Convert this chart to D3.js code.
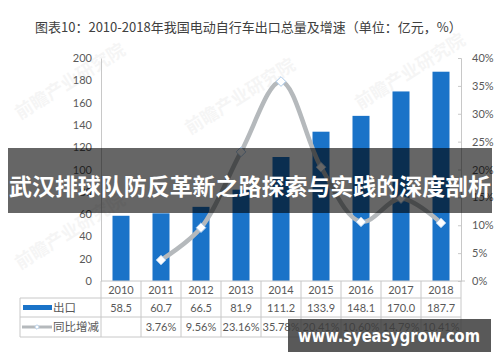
<!DOCTYPE html>
<html>
<head>
<meta charset="utf-8">
<script src="https://cdn.jsdelivr.net/npm/d3@7"></script>
<style>
  body { margin: 0; background: #fff; }
  svg { display: block; font-family: "Noto Sans CJK SC", "Microsoft YaHei", sans-serif; }
</style>
</head>
<body>
<script>
// chart data
const years = ["2010", "2011", "2012", "2013", "2014", "2015", "2016", "2017", "2018"];
const exportVals = [58.5, 60.7, 66.5, 81.9, 111.2, 133.9, 148.1, 170.0, 187.7];
const growthVals = [null, 3.76, 9.56, 23.16, 35.78, 20.41, 10.60, 14.79, 10.41];
const leftTicks = [0, 20, 40, 60, 80, 100, 120, 140, 160, 180, 200];
const rightTicks = [0, 5, 10, 15, 20, 25, 30, 35, 40];

const W = 500, H = 362;
const pLeft = 101, pRight = 461, pTop = 58, pBottom = 281;
const barColor = "#1a73c8", lineColor = "#b5b9bc", textColor = "#595959", gridColor = "#c8c8c8";

const svg = d3.select("body").append("svg").attr("width", W).attr("height", H);

// faint watermarks in the back
const wm = [[20, 120], [190, 135], [20, 270], [360, 110]];
wm.forEach(([x, y]) => {
  svg.append("text")
    .attr("transform", `translate(${x},${y}) rotate(-32)`)
    .attr("font-size", 18).attr("font-weight", "bold")
    .attr("fill", "#000").attr("opacity", 0.035)
    .text("前瞻产业研究院");
});

// title
svg.append("text")
  .attr("x", 35).attr("y", 32)
  .attr("font-size", 13).attr("fill", "#404040")
  .text("图表10：2010-2018年我国电动自行车出口总量及增速（单位：亿元，%）");

const x = d3.scaleBand().domain(years).range([pLeft, pRight]).paddingInner(0.575).paddingOuter(0.2875);
const xc = d3.scaleBand().domain(years).range([pLeft, pRight]); // table columns
const y = d3.scaleLinear().domain([0, 200]).range([pBottom, pTop]);
const y2 = d3.scaleLinear().domain([0, 40]).range([pBottom, pTop]);

// left axis
const gl = svg.append("g").attr("transform", `translate(${pLeft},0)`)
  .call(d3.axisLeft(y).tickValues(leftTicks).tickSize(0).tickPadding(9));
gl.select(".domain").attr("stroke", gridColor);
gl.selectAll("text").attr("font-size", 11).attr("fill", textColor).attr("font-family", "Lato, sans-serif");

// right axis
const gr = svg.append("g").attr("transform", `translate(${pRight},0)`)
  .call(d3.axisRight(y2).tickValues(rightTicks).tickFormat(d => d + "%").tickSize(-3).tickPadding(11));
gr.select(".domain").attr("stroke", gridColor);
gr.selectAll(".tick line").attr("stroke", gridColor);
gr.selectAll("text").attr("font-size", 11).attr("fill", textColor).attr("font-family", "Lato, sans-serif");

// bars
svg.append("g").selectAll("rect")
  .data(exportVals)
  .join("rect")
  .attr("x", (d, i) => x(years[i]))
  .attr("y", d => y(d))
  .attr("width", x.bandwidth())
  .attr("height", d => pBottom - y(d))
  .attr("fill", barColor);

// growth line
const pts = growthVals.map((v, i) => ({ yr: years[i], v })).filter(d => d.v !== null);
const line = d3.line()
  .x(d => xc(d.yr) + xc.bandwidth() / 2)
  .y(d => y2(d.v))
  .curve(d3.curveCatmullRom.alpha(0.5));
svg.append("path").datum(pts)
  .attr("d", line)
  .attr("fill", "none").attr("stroke", lineColor).attr("stroke-width", 4.5);

svg.append("g").selectAll("path")
  .data(pts)
  .join("path")
  .attr("transform", d => `translate(${xc(d.yr) + xc.bandwidth() / 2},${y2(d.v)})`)
  .attr("d", d3.symbol(d3.symbolDiamond2, 60))
  .attr("fill", "#fff").attr("stroke", "#a9c9ea").attr("stroke-width", 1);

// data table under the chart
const tLeft = 20, rowY = [281, 298, 317, 337];
const tg = svg.append("g").attr("stroke", gridColor).attr("stroke-width", 1);
tg.append("line").attr("x1", pLeft).attr("x2", pRight + 4).attr("y1", rowY[0]).attr("y2", rowY[0]);
rowY.slice(1).forEach(yy => tg.append("line").attr("x1", tLeft).attr("x2", pRight).attr("y1", yy).attr("y2", yy));
tg.append("line").attr("x1", tLeft).attr("x2", tLeft).attr("y1", rowY[1]).attr("y2", rowY[3]);
years.forEach(yr => tg.append("line").attr("x1", xc(yr)).attr("x2", xc(yr)).attr("y1", rowY[0]).attr("y2", rowY[3]));
tg.append("line").attr("x1", pRight).attr("x2", pRight).attr("y1", rowY[0]).attr("y2", rowY[3]);

const cell = (txt, cx, cy) => svg.append("text")
  .attr("x", cx).attr("y", cy).attr("text-anchor", "middle")
  .attr("font-size", 11).attr("fill", textColor).attr("font-family", "Lato, sans-serif")
  .text(txt);
years.forEach((yr, i) => {
  const cx = xc(yr) + xc.bandwidth() / 2;
  cell(yr, cx, 294);
  cell(exportVals[i].toFixed(1), cx, 312);
  if (growthVals[i] !== null) cell(growthVals[i].toFixed(2) + "%", cx, 331);
});

// legend keys in the table
svg.append("rect").attr("x", 23).attr("y", 305).attr("width", 29).attr("height", 5).attr("fill", barColor);
svg.append("text").attr("x", 53).attr("y", 312).attr("font-size", 11.5).attr("fill", textColor).text("出口");
svg.append("line").attr("x1", 22).attr("x2", 52).attr("y1", 327).attr("y2", 327)
  .attr("stroke", lineColor).attr("stroke-width", 3);
svg.append("path").attr("transform", "translate(37,327)")
  .attr("d", d3.symbol(d3.symbolDiamond2, 14))
  .attr("fill", "#fff").attr("stroke", "#a9c9ea").attr("stroke-width", 0.8);
svg.append("text").attr("x", 53).attr("y", 331).attr("font-size", 11.5).attr("fill", textColor).text("同比增减");

// overlay banner across the middle
svg.append("rect").attr("x", 8).attr("y", 148).attr("width", 484).attr("height", 65)
  .attr("fill", "#000").attr("opacity", 0.6);
svg.append("text")
  .attr("x", 250).attr("y", 195).attr("text-anchor", "middle")
  .attr("font-size", 22.5).attr("font-weight", "bold").attr("fill", "#fff")
  .attr("textLength", 482).attr("lengthAdjust", "spacingAndGlyphs")
  .text("武汉排球队防反革新之路探索与实践的深度剖析");

// site stamp at the bottom right
svg.append("rect").attr("x", 288).attr("y", 319).attr("width", 203).attr("height", 33)
  .attr("fill", "#3c3c3c").attr("opacity", 0.85);
svg.append("text")
  .attr("x", 389).attr("y", 342).attr("text-anchor", "middle")
  .attr("font-size", 17).attr("font-weight", "bold").attr("fill", "#fff")
  .attr("font-family", "'DejaVu Sans', sans-serif")
  .attr("textLength", 182).attr("lengthAdjust", "spacingAndGlyphs")
  .text("www.syeasygrow.com");
</script>
</body>
</html>
